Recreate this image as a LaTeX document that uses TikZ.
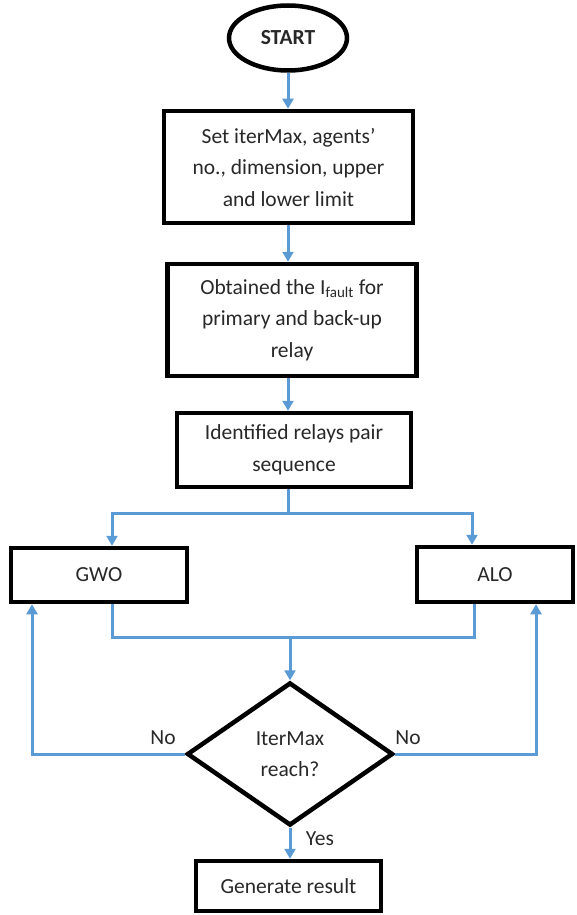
\documentclass[tikz,border=0pt]{standalone}
\usepackage{fontspec}
\setmainfont{Carlito}
\usetikzlibrary{shapes.geometric,arrows.meta}
\definecolor{flowblue}{RGB}{91,155,213}
\definecolor{txt}{RGB}{40,40,40}
\tikzset{
  procbox/.style={draw=black, line width=4.5pt, fill=white, rectangle, align=center, inner sep=0pt, text=txt,
    font=\fontsize{21.5}{31.5}\selectfont},
  termbox/.style={draw=black, line width=4.5pt, ellipse, inner sep=0pt, text=txt, font=\fontsize{21.5}{31}\selectfont\bfseries},
  decbox/.style={draw=black, line width=4.5pt, diamond, aspect=1.44, inner sep=0pt, align=center, text=txt,
    font=\fontsize{21.5}{31}\selectfont},
  flow/.style={draw=flowblue, line width=3pt, -{Triangle[width=11pt,length=10pt]}},
  flowline/.style={draw=flowblue, line width=3pt},
  lbl/.style={text=txt, font=\fontsize{21.5}{25}\selectfont, inner sep=0pt}
}
\begin{document}
\begin{tikzpicture}[x=1pt,y=-1pt]
\useasboundingbox (0,0) rectangle (576,915);
\node[termbox, minimum width=118pt, minimum height=65pt] (start) at (288,38) {START};
\node[procbox, minimum width=249pt, minimum height=112pt] (b1) at (288.5,167)
  {Set iterMax, agents’\\no., dimension, upper\\and lower limit};
\node[procbox, minimum width=249pt, minimum height=112pt] (b2) at (292,320)
  {Obtained the I\textsubscript{fault} for\\primary and back-up\\relay};
\node[procbox, minimum width=234pt, minimum height=74pt] (b3) at (294,450)
  {Identified relays pair\\sequence};
\node[procbox, minimum width=176pt, minimum height=54pt] (gwo) at (99,575) {GWO};
\node[procbox, minimum width=156pt, minimum height=55pt] (alo) at (495,574.5) {ALO};
\node[decbox, minimum width=206pt, minimum height=143pt] (dec) at (290,754) {IterMax\\reach?};
\node[procbox, minimum width=185pt, minimum height=50pt] (gen) at (288.5,886) {Generate result};

\coordinate (sp) at (288,513);
\coordinate (mg) at (290,637);

\draw[flow] (start.south) -- (start.south |- b1.north);
\draw[flow] ([xshift=-0.5pt]b1.south) -- ([xshift=-0.5pt]b1.south |- b2.north);
\draw[flow] ([xshift=-4pt]b2.south) -- ([xshift=-4pt]b2.south |- b3.north);
\draw[flowline] ([xshift=-6pt]b3.south) -- (sp);
\draw[flow] (sp) -| ([xshift=13pt]gwo.north);
\draw[flow] (sp) -| ([xshift=-23pt]alo.north);
\draw[flowline] ([xshift=13pt]gwo.south) |- (mg) -| ([xshift=-21pt]alo.south);
\draw[flow] (mg) -- (dec.north);
\draw[flow] (dec.west) -| ([xshift=-67pt]gwo.south);
\draw[flow] (dec.east) -| ([xshift=41pt]alo.south);
\draw[flow] (dec.south) -- (dec.south |- gen.north);

\node[lbl] (no1) at (163,738) {No};
\node[lbl] (no2) at (408,738) {No};
\node[lbl] (yes) at (320,839) {Yes};
\end{tikzpicture}
\end{document}
